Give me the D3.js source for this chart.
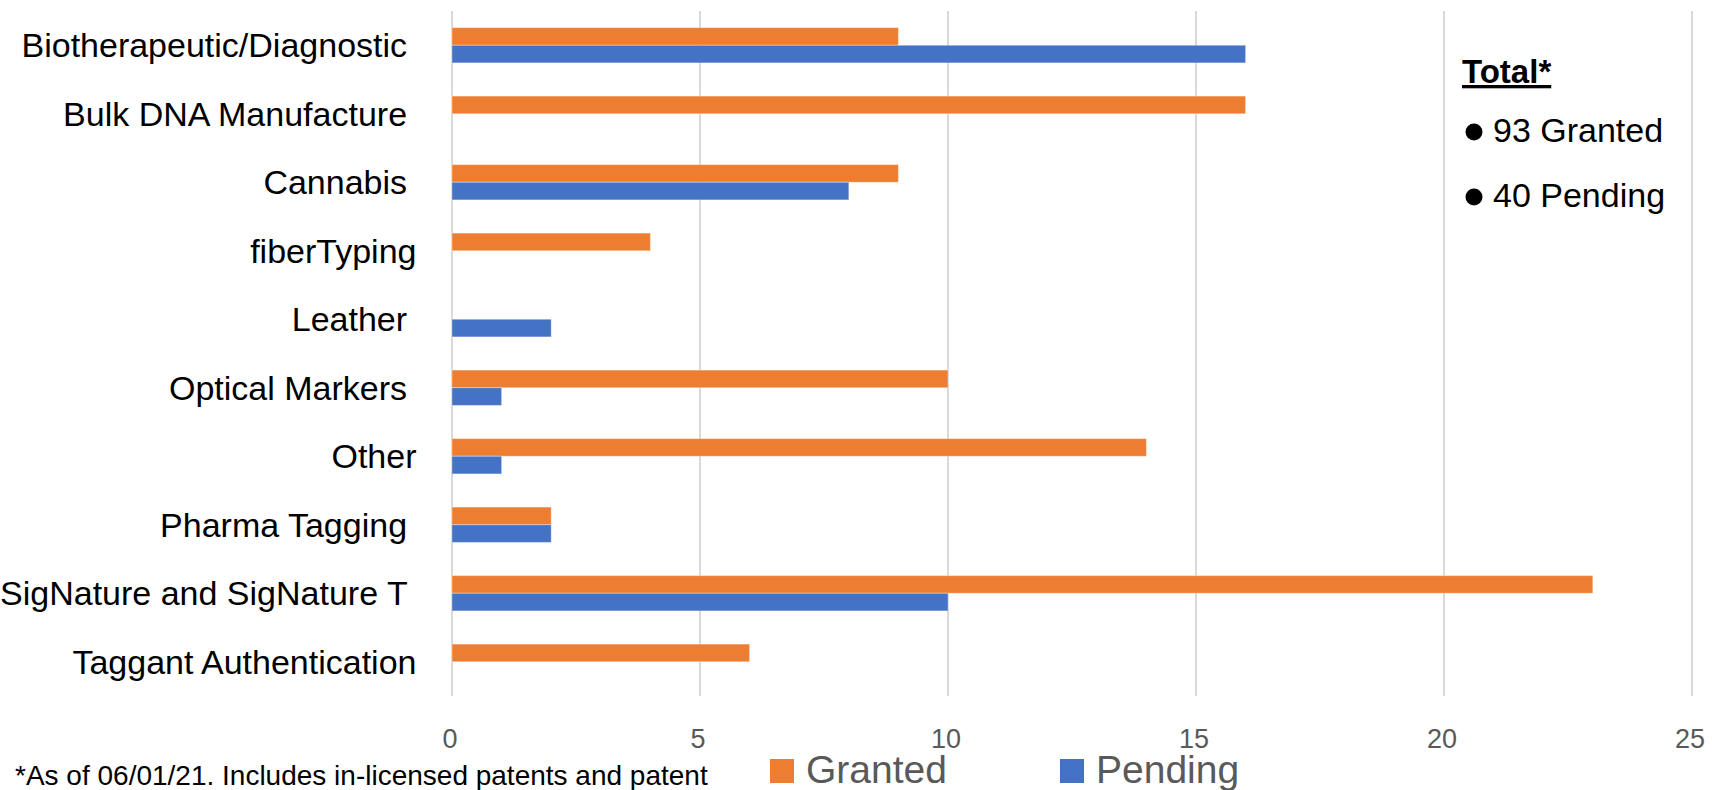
<!DOCTYPE html>
<html>
<head>
<meta charset="utf-8">
<script src="https://cdn.jsdelivr.net/npm/d3@7"></script>
<style>
    body { margin: 0; background: #fff; }
    svg text { font-family: "Liberation Sans", Arial, sans-serif; }
</style>
</head>
<body>
<div class="container"></div>
<script>
// categories, with the trailing spaces they have in the original sheet
let categories = ["Biotherapeutic/Diagnostic ", "Bulk DNA Manufacture ", "Cannabis ", "fiberTyping",
    "Leather ", "Optical Markers ", "Other", "Pharma Tagging ", "SigNature and SigNature T ", "Taggant Authentication"];
let granted = [9, 16, 9, 4, 0, 10, 14, 2, 23, 6];
let pending = [16, 0, 8, 0, 2, 1, 1, 2, 10, 0];
let series = ["Granted", "Pending"];
let colors = ["#ED7D31", "#4472C4"];
let xTicks = [0, 5, 10, 15, 20, 25];
let totals = ["93 Granted", "40 Pending"];
let footnote = "*As of 06/01/21. Includes in-licensed patents and patent";

let W = 1712, H = 790;
let margin = { top: 11, right: 20, bottom: 94, left: 452 },
    width = 1692 - margin.left,
    height = H - margin.top - margin.bottom;

let svg = d3.select(".container")
    .append("svg")
    .attr("width", W)
    .attr("height", H);

let g = svg.append("g")
    .attr("transform", "translate(" + margin.left + "," + margin.top + ")");

let x = d3.scaleLinear()
    .domain([0, 25])
    .range([0, width]);

let y = d3.scaleBand()
    .domain(categories)
    .range([0, height])
    .paddingInner(0.485)
    .paddingOuter(0.2425);

let sub = d3.scaleBand()
    .domain(series)
    .range([0, y.bandwidth()]);

// gridlines
g.append("g")
    .selectAll("line")
    .data(xTicks)
    .enter()
    .append("line")
    .attr("x1", function (d) { return x(d); })
    .attr("x2", function (d) { return x(d); })
    .attr("y1", 0)
    .attr("y2", height)
    .attr("stroke", "#D9D9D9")
    .attr("stroke-width", 2);

// tick labels
g.append("g")
    .selectAll("text")
    .data(xTicks)
    .enter()
    .append("text")
    .attr("x", function (d) { return x(d) - 2; })
    .attr("y", 748 - margin.top)
    .attr("text-anchor", "middle")
    .style("font-size", "27px")
    .style("fill", "#595959")
    .text(function (d) { return d; });

// bars
let rows = categories.map(function (c, i) {
    return { cat: c, values: [granted[i], pending[i]] };
});

let groups = g.append("g")
    .selectAll("g")
    .data(rows)
    .enter()
    .append("g")
    .attr("transform", function (d) { return "translate(0," + y(d.cat) + ")"; });

groups.selectAll("rect")
    .data(function (d) {
        return series.map(function (s, j) { return { s: s, v: d.values[j], c: colors[j] }; });
    })
    .enter()
    .filter(function (d) { return d.v > 0; })
    .append("rect")
    .attr("x", x(0))
    .attr("y", function (d) { return sub(d.s); })
    .attr("width", function (d) { return x(d.v) - x(0); })
    .attr("height", sub.bandwidth())
    .style("fill", function (d) { return d.c; })
    .attr("stroke", "rgba(255,255,255,0.35)")
    .attr("stroke-width", 1);

// category labels
g.append("g")
    .selectAll("text")
    .data(categories)
    .enter()
    .append("text")
    .attr("x", 416.5 - margin.left)
    .attr("y", function (d) { return y(d) + y.bandwidth() / 2; })
    .attr("dy", "0.36em")
    .attr("text-anchor", "end")
    .style("white-space", "pre")
    .style("font-size", "34px")
    .style("fill", "#000")
    .text(function (d) { return d; });

// totals box
let box = svg.append("g");
box.append("text")
    .attr("x", 1462)
    .attr("y", 83)
    .style("font-size", "33px")
    .style("font-weight", "bold")
    .style("text-decoration", "underline")
    .text("Total*");

box.selectAll(".tot")
    .data(totals)
    .enter()
    .append("text")
    .attr("class", "tot")
    .attr("x", 1493)
    .attr("y", function (d, i) { return 142 + i * 65; })
    .style("font-size", "34px")
    .text(function (d) { return d; });

box.selectAll("circle")
    .data(totals)
    .enter()
    .append("circle")
    .attr("cx", 1474)
    .attr("cy", function (d, i) { return 132 + i * 65; })
    .attr("r", 8.5)
    .style("fill", "#000");

// legend
let legend = svg.append("g")
    .selectAll("g")
    .data(series)
    .enter()
    .append("g")
    .attr("transform", function (d, i) { return "translate(" + [770, 1060][i] + ",759)"; });

legend.append("rect")
    .attr("width", 24)
    .attr("height", 24)
    .style("fill", function (d, i) { return colors[i]; });

legend.append("text")
    .attr("x", 36)
    .attr("y", 24)
    .style("font-size", "39px")
    .style("fill", "#595959")
    .text(function (d) { return d; });

// footnote, cut at the bottom edge like the original
svg.append("text")
    .attr("x", 15)
    .attr("y", 785)
    .style("font-size", "28px")
    .style("fill", "#000")
    .text(footnote);
</script>
</body>
</html>
